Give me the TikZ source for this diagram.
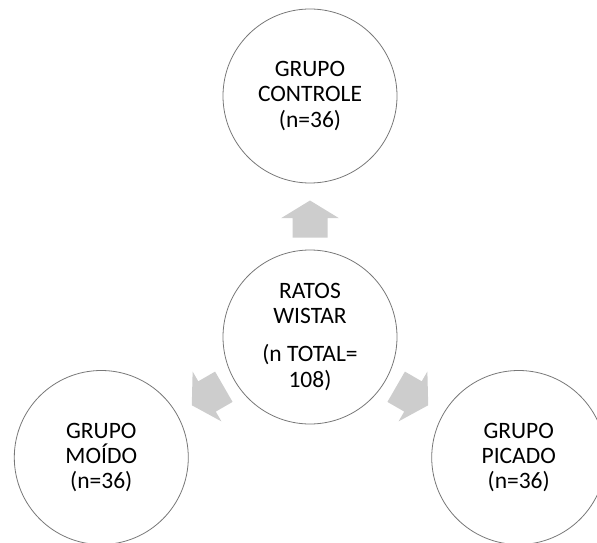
\documentclass[tikz,border=0pt]{standalone}
\usepackage{fontspec}
\setmainfont{Carlito}
\usetikzlibrary{calc}
\definecolor{arrowgray}{RGB}{205,205,205}
\definecolor{ringgray}{RGB}{120,120,120}
\begin{document}
\begin{tikzpicture}[x=1pt,y=1pt,
  bubble/.style={circle, draw=ringgray, line width=0.8pt, fill=white, minimum size=174pt, inner sep=0pt,
    align=center, font=\fontsize{23.5}{25.5}\selectfont, text=black},
  blockarrow/.style={fill=arrowgray}]
\useasboundingbox (0,0) rectangle (597,542);
\coordinate (o) at (310,205);
\node[bubble] (c) at (o) {RATOS\\WISTAR\\[12.5pt](n TOTAL=\\108)};
\node[bubble] (t) at ($(o)+(90:241)$) {GRUPO\\CONTROLE\\(n=36)};
\node[bubble] (l) at ($(o)+(210:241)$) {GRUPO\\MOÍDO\\(n=36)};
\node[bubble] (r) at ($(o)+(330:241)$) {GRUPO\\PICADO\\(n=36)};
\foreach \a in {90,210,330}{
  \fill[blockarrow, shift={(c.center)}, rotate=\a]
    (136.5,0) -- (118.9,28.8) -- (118.9,17.5) -- (99.5,17.5) -- (99.5,-17.5) -- (118.9,-17.5) -- (118.9,-28.8) -- cycle;
}
\end{tikzpicture}
\end{document}
